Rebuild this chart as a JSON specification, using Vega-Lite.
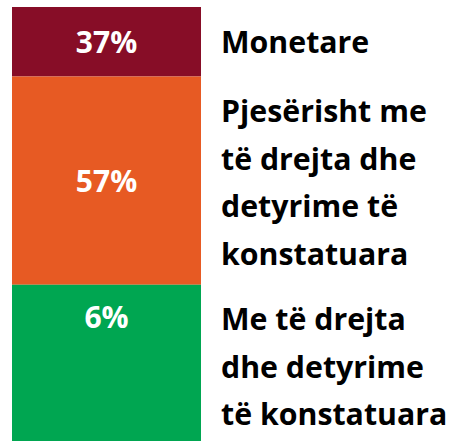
{
  "$schema": "https://vega.github.io/schema/vega-lite/v6.json",
  "autosize": {"type": "none"},
  "padding": {"left": 12, "top": 7, "right": 250, "bottom": 0},
  "width": 189,
  "height": 434,
  "background": "white",
  "config": {"view": {"stroke": null}},
  "data": {
    "values": [
      {"rank": 1, "pct": "37%", "value": 16, "label": "Monetare"},
      {"rank": 2, "pct": "57%", "value": 48, "label": "Pjesërisht me\ntë drejta dhe\ndetyrime të\nkonstatuara"},
      {"rank": 3, "pct": "6%", "value": 36, "label": "Me të drejta\ndhe detyrime\ntë konstatuara"}
    ]
  },
  "transform": [
    {"stack": "value", "groupby": [], "sort": [{"field": "rank", "order": "ascending"}], "as": ["y0", "y1"]},
    {"calculate": "(datum.y0 + datum.y1) / 2", "as": "mid"}
  ],
  "layer": [
    {
      "mark": {"type": "bar"},
      "encoding": {
        "x": {"datum": 0, "type": "quantitative", "scale": {"domain": [0, 1], "nice": false, "zero": false}, "axis": null},
        "x2": {"datum": 1},
        "y": {"field": "y0", "type": "quantitative", "scale": {"domain": [0, 100], "reverse": true, "nice": false}, "axis": null},
        "y2": {"field": "y1"},
        "color": {"field": "rank", "type": "ordinal", "scale": {"domain": [1, 2, 3], "range": ["#870D27", "#E75A23", "#00A651"]}, "legend": null}
      }
    },
    {
      "transform": [{"filter": "datum.rank < 3"}],
      "mark": {"type": "text", "font": "Open Sans", "fontWeight": "bold", "fontSize": 30, "color": "white", "align": "center", "baseline": "middle", "dy": 2.5},
      "encoding": {
        "x": {"datum": 0.5, "type": "quantitative"},
        "y": {"field": "mid", "type": "quantitative"},
        "text": {"field": "pct"}
      }
    },
    {
      "transform": [{"filter": "datum.rank == 3"}],
      "mark": {"type": "text", "font": "Open Sans", "fontWeight": "bold", "fontSize": 30, "color": "white", "align": "center", "baseline": "middle", "dy": 34},
      "encoding": {
        "x": {"datum": 0.5, "type": "quantitative"},
        "y": {"field": "y0", "type": "quantitative"},
        "text": {"field": "pct"}
      }
    },
    {
      "mark": {"type": "text", "font": "Open Sans", "fontWeight": "bold", "fontSize": 30.3, "color": "black", "align": "left", "baseline": "alphabetic", "dx": 20, "dy": 45.5, "lineBreak": "\n", "lineHeight": 47.6},
      "encoding": {
        "x": {"datum": 1, "type": "quantitative"},
        "y": {"field": "y0", "type": "quantitative"},
        "text": {"field": "label"}
      }
    }
  ]
}
